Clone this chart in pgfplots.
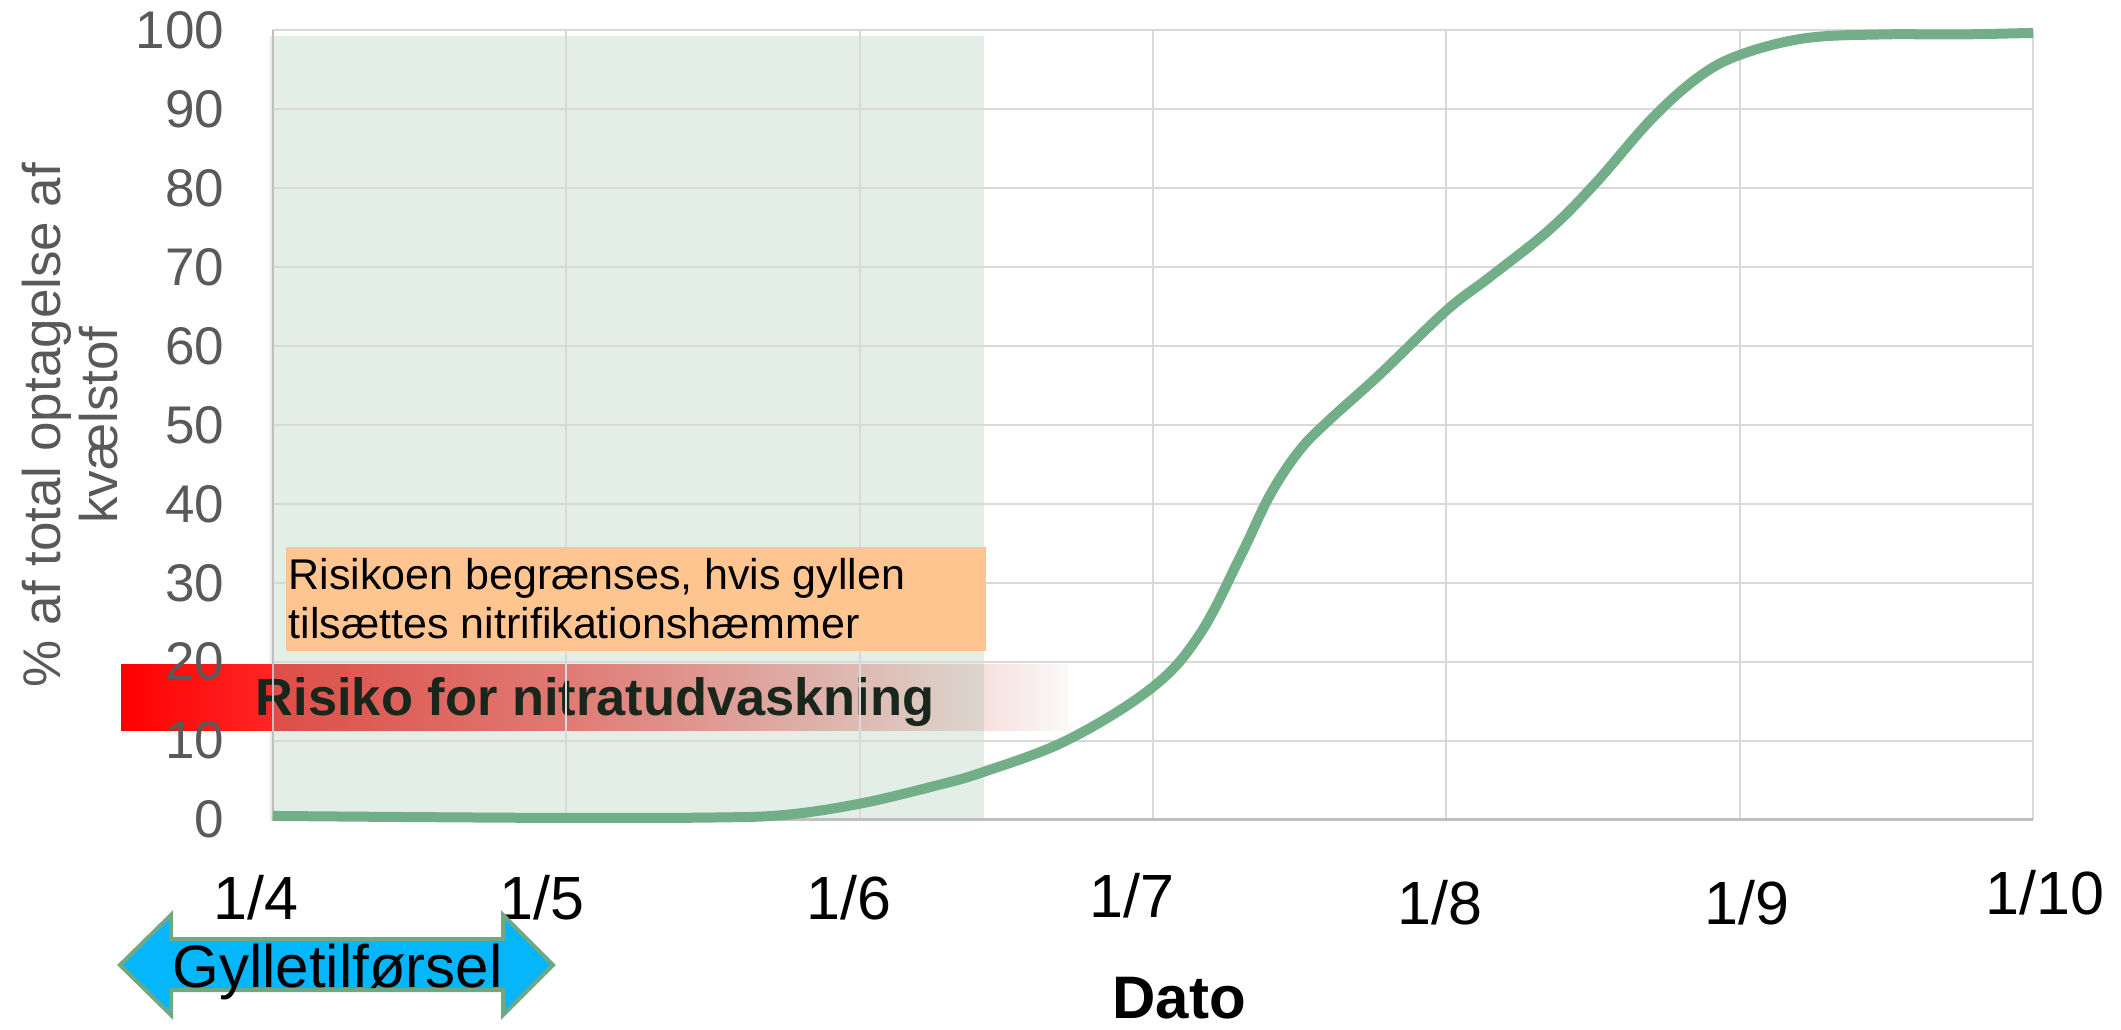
\documentclass[border=0pt]{standalone}
\usepackage{fontspec}
\setmainfont{Liberation Sans}
\usepackage{pgfplots}
\pgfplotsset{compat=1.18}
\definecolor{gridgray}{RGB}{217,217,217}
\definecolor{axisgray}{RGB}{191,191,191}
\definecolor{ticklbl}{RGB}{89,89,89}
\definecolor{bggreen}{RGB}{226,238,230}
\definecolor{boxorange}{RGB}{255,197,145}
\definecolor{curvegreen}{RGB}{114,175,137}
\definecolor{arrowblue}{RGB}{5,183,250}
\definecolor{arrowedge}{RGB}{112,168,132}
\definecolor{risktext}{RGB}{24,38,28}
\definecolor{rA}{RGB}{255,0,0}
\definecolor{rB}{RGB}{255,38,38}
\definecolor{rC}{RGB}{222,78,72}
\definecolor{rD}{RGB}{224,122,116}
\definecolor{rE}{RGB}{220,214,206}
\definecolor{rF}{RGB}{246,224,222}
\definecolor{rG}{RGB}{250,250,249}
\newcommand\xl[3]{\hspace*{#1}\raisebox{#2}{#3}\hspace*{-#1}}
\begin{document}
\begin{tikzpicture}
\begin{axis}[
  set layers,
  at={(68.25pt,52.375pt)}, anchor=south west,
  scale only axis, width=440pt, height=197.25pt,
  xmin=0, xmax=6, ymin=0, ymax=100,
  xtick={0,1,2,3,4,5,6}, ytick={0,10,...,100},
  xticklabels={\xl{-4.25pt}{0pt}{1/4},\xl{-6pt}{0pt}{1/5},\xl{-2.75pt}{0pt}{1/6},\xl{-5.25pt}{0.5pt}{1/7},\xl{-1.5pt}{-1.25pt}{1/8},\xl{1.75pt}{-1.25pt}{1/9},\xl{3pt}{1.25pt}{1/10}},
  grid=major, major grid style={draw=gridgray, line width=0.5pt},
  axis line style={draw=none},
  major tick length=0pt, tick style={draw=none},
  clip=false,
  yticklabel style={anchor=east, inner sep=0pt, xshift=-12pt, text=ticklbl, font=\fontsize{13.25}{15}\selectfont},
  xticklabel style={anchor=base, inner sep=0pt, yshift=-25.1pt, text=black, font=\fontsize{15.25}{17}\selectfont},
  /pgf/number format/assume math mode=true,
  xlabel={Dato},
  xlabel style={at={(axis description cs:0.5148,-0.2528)}, anchor=base, inner sep=0pt, font=\bfseries\fontsize{15}{17}\selectfont},
]
\begin{pgfonlayer}{axis background}
\fill[bggreen] (axis cs:-0.0102,-0.2) rectangle (axis cs:2.424,99.3);
\shade[left color=rA, right color=rB] (axis cs:-0.518,11.22) rectangle (axis cs:0.002,19.6);
\shade[left color=rC, right color=rD] (axis cs:0,11.22) rectangle (axis cs:1.001,19.6);
\shade[left color=rD, right color=rE] (axis cs:0.999,11.22) rectangle (axis cs:2.426,19.6);
\shade[left color=rF, right color=rG] (axis cs:2.424,11.22) rectangle (axis cs:2.71,19.6);
\node[anchor=base, text=risktext, font=\bfseries\fontsize{13.1}{15}\selectfont, inner sep=0pt] at (axis cs:1.098,13.24) {Risiko for nitratudvaskning};
\end{pgfonlayer}
\fill[boxorange] (axis cs:0.044,21.36) rectangle (axis cs:2.431,34.5);
\node[anchor=base west, inner sep=0pt, font=\fontsize{10.75}{12}\selectfont] at (axis cs:0.0511,29.21) {Risikoen begrænses, hvis gyllen};
\node[anchor=base west, inner sep=0pt, font=\fontsize{10.75}{12}\selectfont] at (axis cs:0.0511,23.0) {tilsættes nitrifikationshæmmer};
\draw[axisgray, line width=0.6pt] (axis cs:0,100) -- (axis cs:0,0) -- (axis cs:6,0);
\node[rotate=90, anchor=base, inner sep=0pt, text=ticklbl, font=\fontsize{13.25}{15}\selectfont] at (axis description cs:-0.1210,0.5) {\% af total optagelse af};
\node[rotate=90, anchor=base, inner sep=0pt, text=ticklbl, font=\fontsize{13.25}{15}\selectfont] at (axis description cs:-0.0881,0.5) {kvælstof};
\addplot[curvegreen, line width=2.5pt, smooth, tension=0.6, line join=round] coordinates {
(0,0.45) (0.5,0.3) (1.0,0.2) (1.5,0.25) (1.75,0.6) (2.0,2.0) (2.25,4.2) (2.42,6.0)
(2.71,10.1) (3.0,16.8) (3.16,23.5) (3.3,33.5) (3.4,41.2) (3.5,46.8) (3.6,50.6)
(3.77,56.3) (4.0,64.5) (4.15,68.8) (4.35,74.7) (4.51,80.7) (4.7,88.8) (4.86,94.1)
(5.0,96.9) (5.22,99.0) (5.48,99.5) (5.75,99.5) (6.0,99.7)
};
\end{axis}
\begin{scope}[x=0.25pt,y=0.25pt]
\draw[arrowedge, fill=arrowblue, line width=1pt, line join=miter] (120,64) -- (171,114) -- (171,90) -- (503,90) -- (503,114) -- (553,64) -- (503,14) -- (503,39) -- (171,39) -- (171,14) -- cycle;
\node[anchor=base, inner sep=0pt, font=\fontsize{15}{17}\selectfont] at (337.5,42) {Gylletilførsel};
\end{scope}
\pgfresetboundingbox
\path[use as bounding box] (0,0) rectangle (530.25pt,257.25pt);
\end{tikzpicture}
\end{document}
